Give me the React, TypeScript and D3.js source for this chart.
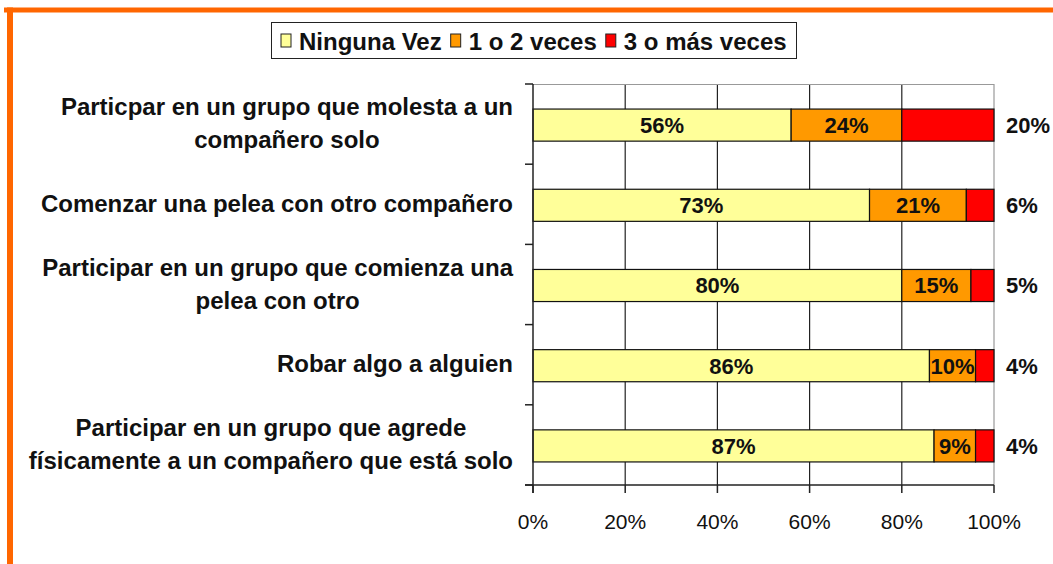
import React, { useEffect, useRef } from "react";
import * as d3 from "d3";

const categories = [
  "Particpar en un grupo que molesta a un\ncompañero solo",
  "Comenzar una pelea con otro compañero",
  "Participar en un grupo que comienza una\npelea con otro",
  "Robar algo a alguien",
  "Participar en un grupo que agrede\nfísicamente a un compañero que está solo",
];
const seriesNames = ["Ninguna Vez", "1 o 2 veces", "3 o más veces"];
const ningunaVez = [56, 73, 80, 86, 87];
const unoODos = [24, 21, 15, 10, 9];
const tresOMas = [20, 6, 5, 4, 4];
const xTicks = [0, 20, 40, 60, 80, 100];
const colors = ["#FFFF99", "#FF9900", "#FF0000"];

const W = 1053;
const H = 564;
const FONT = "'Liberation Sans', Arial, sans-serif";

export default function App() {
  const ref = useRef<SVGSVGElement>(null);

  useEffect(() => {
    const svg = d3.select(ref.current);
    svg.selectAll("*").remove();

    const x = d3.scaleLinear().domain([0, 100]).range([533, 994]);
    const y = d3
      .scaleBand<string>()
      .domain(categories)
      .range([84, 485])
      .paddingInner(0.6)
      .paddingOuter(0.3);

    svg.append("rect").attr("x", 0).attr("y", 0).attr("width", W).attr("height", H).attr("fill", "#fff");

    // orange frame
    svg.append("rect").attr("x", 4).attr("y", 7.5).attr("width", W).attr("height", 5).attr("fill", "#FF6600");
    svg.append("rect").attr("x", 7).attr("y", 7.5).attr("width", 6).attr("height", H).attr("fill", "#FF6600");

    // gridlines
    const g = svg.append("g");
    xTicks.slice(1).forEach((t) => {
      g.append("line")
        .attr("x1", x(t))
        .attr("x2", x(t))
        .attr("y1", 84)
        .attr("y2", 485)
        .attr("stroke", t === 100 ? "#999" : "#222")
        .attr("stroke-width", 1.2);
    });
    g.append("line").attr("x1", 533).attr("x2", 994).attr("y1", 84.5).attr("y2", 84.5).attr("stroke", "#999");

    // bars
    const stacks = [ningunaVez, unoODos, tresOMas];
    categories.forEach((c, i) => {
      let acc = 0;
      stacks.forEach((s, k) => {
        const v = s[i];
        g.append("rect")
          .attr("x", x(acc))
          .attr("y", y(c)! + 1)
          .attr("width", x(acc + v) - x(acc))
          .attr("height", y.bandwidth())
          .attr("fill", colors[k])
          .attr("stroke", "#111")
          .attr("stroke-width", 1.2);
        const isInside = k < 2;
        g.append("text")
          .attr("x", isInside ? (x(acc) + x(acc + v)) / 2 : x(100) + 12)
          .attr("y", y(c)! + 1 + y.bandwidth() / 2)
          .attr("dy", "0.36em")
          .attr("text-anchor", isInside ? "middle" : "start")
          .attr("font-family", FONT)
          .attr("font-weight", "bold")
          .attr("font-size", 22)
          .attr("fill", "#111")
          .text(v + "%");
        acc += v;
      });
    });

    // y axis
    const step = y.step();
    g.append("line").attr("x1", 533).attr("x2", 533).attr("y1", 84).attr("y2", 493).attr("stroke", "#222").attr("stroke-width", 1.5);
    for (let i = 0; i <= categories.length; i++) {
      const yy = 84 + i * step;
      g.append("line").attr("x1", 525).attr("x2", 533).attr("y1", yy).attr("y2", yy).attr("stroke", "#222").attr("stroke-width", 1.5);
    }
    // x axis
    g.append("line").attr("x1", 525).attr("x2", 994).attr("y1", 485).attr("y2", 485).attr("stroke", "#222").attr("stroke-width", 1.5);
    xTicks.forEach((t) => {
      g.append("line").attr("x1", x(t)).attr("x2", x(t)).attr("y1", 485).attr("y2", 493).attr("stroke", "#222").attr("stroke-width", 1.5);
      g.append("text")
        .attr("x", x(t))
        .attr("y", 521)
        .attr("dy", "0.36em")
        .attr("text-anchor", "middle")
        .attr("font-family", FONT)
        .attr("font-size", 21)
        .attr("fill", "#111")
        .text(t + "%");
    });

    // category labels (centered multi-line block, right edge at 513)
    categories.forEach((c) => {
      const lines = c.split("\n");
      const cy = y(c)! + 1 + y.bandwidth() / 2 - 2;
      const lh = 33;
      const t = g
        .append("text")
        .attr("font-family", FONT)
        .attr("font-weight", "bold")
        .attr("font-size", 24)
        .attr("fill", "#111")
        .attr("text-anchor", "middle");
      const spans = lines.map((l, j) =>
        t
          .append("tspan")
          .attr("y", cy + (j - (lines.length - 1) / 2) * lh)
          .attr("dy", "0.36em")
          .text(l)
      );
      let maxW = 0;
      spans.forEach((s) => {
        const w = (s.node() as SVGTSpanElement).getComputedTextLength();
        if (w > maxW) maxW = w;
      });
      spans.forEach((s) => s.attr("x", 513 - maxW / 2));
    });

    // legend
    const lg = svg.append("g");
    lg.append("rect").attr("x", 271.5).attr("y", 22.5).attr("width", 525).attr("height", 36).attr("fill", "#fff").attr("stroke", "#222").attr("stroke-width", 1);
    let lx = 281;
    seriesNames.forEach((n, k) => {
      lg.append("rect").attr("x", lx).attr("y", 34).attr("width", 10).attr("height", 13).attr("fill", colors[k]).attr("stroke", "#222");
      const tt = lg
        .append("text")
        .attr("x", lx + 18)
        .attr("y", 41)
        .attr("dy", "0.36em")
        .attr("font-family", FONT)
        .attr("font-weight", "bold")
        .attr("font-size", 24)
        .attr("fill", "#111")
        .text(n);
      const w = (tt.node() as SVGTextElement).getComputedTextLength();
      lx = lx + 18 + w + 9;
    });
  }, []);

  return (
    <div style={{ position: "absolute", left: 0, top: 0 }}>
      <svg ref={ref} width={W} height={H} style={{ display: "block" }} />
    </div>
  );
}
